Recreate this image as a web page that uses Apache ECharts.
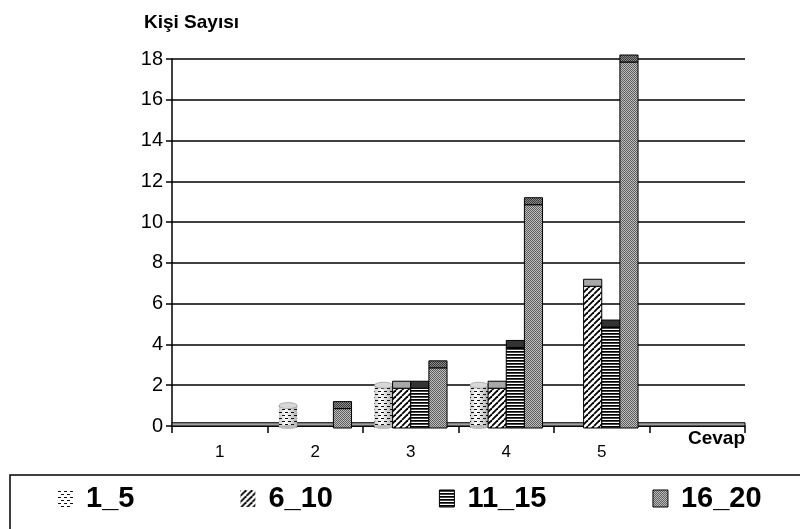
<!DOCTYPE html>
<html>
<head>
<meta charset="utf-8">
<style>
  html, body { margin: 0; padding: 0; background: #fff; }
  #chart { width: 800px; height: 529px; }
</style>
<script src="https://cdn.jsdelivr.net/npm/echarts@6/dist/echarts.min.js"></script>
</head>
<body>
<div id="chart"></div>
<script>
// Answers per group (Cevap 1..5), last slot left empty
const categories = ['1', '2', '3', '4', '5', ''];
const seriesNames = ['1_5', '6_10', '11_15', '16_20'];
const s1_5   = [0, 1, 2, 2, 0, 0];
const s6_10  = [0, 0, 2, 2, 7, 0];
const s11_15 = [0, 0, 2, 4, 5, 0];
const s16_20 = [0, 1, 3, 11, 18, 0];
const yTicks = { min: 0, max: 18, interval: 2 };

const FONT = '"Liberation Sans", Arial, sans-serif';

function makeCanvas(w, h, draw) {
  const c = document.createElement('canvas');
  c.width = w; c.height = h;
  draw(c.getContext('2d'));
  return c;
}

// fill patterns
const dashTransparent = makeCanvas(6, 6, g => {
  g.fillStyle = '#111';
  g.fillRect(0, 1, 3, 1);
  g.fillRect(3, 4, 3, 1);
});
const dashWhite = makeCanvas(6, 6, g => {
  g.fillStyle = '#fff'; g.fillRect(0, 0, 6, 6);
  g.fillStyle = '#111';
  g.fillRect(0, 1, 3, 1);
  g.fillRect(3, 4, 3, 1);
});
const diag = makeCanvas(6, 6, g => {
  g.fillStyle = '#fff'; g.fillRect(0, 0, 6, 6);
  g.strokeStyle = '#000'; g.lineWidth = 1.8;
  for (let k = -6; k <= 6; k += 6) {
    g.beginPath(); g.moveTo(k, 6); g.lineTo(k + 6, 0); g.stroke();
  }
});
const horiz = makeCanvas(3, 3, g => {
  g.fillStyle = '#fff'; g.fillRect(0, 0, 3, 3);
  g.fillStyle = '#000'; g.fillRect(0, 0, 3, 1);
  g.fillStyle = '#444'; g.fillRect(0, 1, 3, 1);
});
const checker = makeCanvas(2, 2, g => {
  g.fillStyle = '#bdbdbd'; g.fillRect(0, 0, 2, 2);
  g.fillStyle = '#5f5f5f'; g.fillRect(0, 0, 1, 1); g.fillRect(1, 1, 1, 1);
});
const checkerDark = makeCanvas(2, 2, g => {
  g.fillStyle = '#8a8a8a'; g.fillRect(0, 0, 2, 2);
  g.fillStyle = '#3a3a3a'; g.fillRect(0, 0, 1, 1); g.fillRect(1, 1, 1, 1);
});
const pat = c => ({ image: c, repeat: 'repeat' });

const fills = [pat(dashWhite), pat(diag), pat(horiz), pat(checker)];
const capFills = ['#e6e6e6', '#a8a8a8', '#333', pat(checkerDark)];

function renderBar(idx) {
  return function (params, api) {
    const v = api.value(1);
    if (!v) return;
    const cat = api.value(0);
    const base = api.coord([cat, 0]);
    const top = api.coord([cat, v]);
    const bw = api.size([1, 0])[0] * 0.19;
    const x = base[0] - 2 * bw + idx * bw;
    const bottom = base[1] + 2;
    if (idx === 0) {
      // cylinder: shaded body + dashed overlay + elliptic top
      const grad = new echarts.graphic.LinearGradient(0, 0, 1, 0, [
        { offset: 0, color: '#c8c8c8' },
        { offset: 0.35, color: '#ffffff' },
        { offset: 1, color: '#b0b0b0' }
      ]);
      return {
        type: 'group',
        children: [
          { type: 'rect', shape: { x: x, y: top[1], width: bw, height: bottom - top[1] }, style: { fill: grad } },
          { type: 'rect', shape: { x: x, y: top[1], width: bw, height: bottom - top[1] }, style: { fill: pat(dashTransparent) } },
          { type: 'ellipse', shape: { cx: x + bw / 2, cy: bottom - 1, rx: bw / 2, ry: 2 }, style: { fill: '#bbb' } },
          { type: 'ellipse', shape: { cx: x + bw / 2, cy: top[1], rx: bw / 2, ry: 3 }, style: { fill: '#d8d8d8', stroke: '#888', lineWidth: 0.6 } }
        ]
      };
    }
    return {
      type: 'group',
      children: [
        { type: 'rect', shape: { x: x, y: top[1] + 3, width: bw, height: bottom - top[1] - 3 },
          style: { fill: fills[idx], stroke: '#000', lineWidth: 1 } },
        { type: 'rect', shape: { x: x, y: top[1] - 4, width: bw, height: 7 },
          style: { fill: capFills[idx], stroke: '#000', lineWidth: 1 } }
      ]
    };
  };
}

const allValues = [s1_5, s6_10, s11_15, s16_20];
const series = allValues.map((vals, idx) => ({
  name: seriesNames[idx],
  type: 'custom',
  z: 3,
  renderItem: renderBar(idx),
  encode: { x: 0, y: 1 },
  itemStyle: { color: fills[idx] },
  data: vals.map((v, i) => [i, v])
}));

// floor band along the value 0
series.push({
  name: 'floor',
  type: 'line',
  data: [],
  z: 1,
  silent: true,
  markArea: {
    silent: true,
    itemStyle: { color: '#a0a0a0', borderColor: '#000', borderWidth: 1 },
    data: [[{ yAxis: 0 }, { yAxis: 0.16 }]]
  }
});

const legendIcons = [
  { color: pat(dashWhite), borderWidth: 0 },
  { color: pat(diag), borderWidth: 0 },
  { color: pat(horiz), borderColor: '#000', borderWidth: 1 },
  { color: pat(checker), borderColor: '#000', borderWidth: 1 }
];

const chart = echarts.init(document.getElementById('chart'), null, { renderer: 'canvas' });
chart.setOption({
  animation: false,
  backgroundColor: '#fff',
  title: {
    text: 'Kişi Sayısı',
    left: 139,
    top: 8,
    textStyle: { fontFamily: FONT, fontSize: 19, fontWeight: 'bold', color: '#000' }
  },
  grid: { left: 172, right: 55, top: 59, bottom: 103 },
  legend: {
    left: 10,
    top: 475,
    width: 1000,
    padding: [9, 80, 40, 48],
    itemWidth: 15,
    itemHeight: 17,
    itemGap: 106,
    borderColor: '#000',
    borderWidth: 1.5,
    icon: 'rect',
    textStyle: { fontFamily: FONT, fontSize: 29, fontWeight: 'bold', color: '#000', padding: [0, 0, 0, 8] },
    data: seriesNames.map((n, i) => ({ name: n, itemStyle: legendIcons[i] }))
  },
  xAxis: {
    type: 'category',
    data: categories,
    name: 'Cevap',
    nameLocation: 'end',
    nameGap: 0,
    nameTextStyle: {
      fontFamily: FONT, fontSize: 19, fontWeight: 'bold', color: '#000',
      align: 'right', verticalAlign: 'top', padding: [3, 0, 0, 0]
    },
    axisLine: { show: true, lineStyle: { color: '#000', width: 1.5 } },
    axisTick: { show: true, alignWithLabel: false, length: 7, lineStyle: { color: '#000', width: 1.5 } },
    axisLabel: { fontFamily: FONT, fontSize: 17, color: '#000', margin: 18 },
    splitLine: { show: false }
  },
  yAxis: {
    type: 'value',
    min: yTicks.min,
    max: yTicks.max,
    interval: yTicks.interval,
    axisLine: { show: true, lineStyle: { color: '#000', width: 1.5 } },
    axisTick: { show: true, length: 6, lineStyle: { color: '#000', width: 1.5 } },
    axisLabel: { fontFamily: FONT, fontSize: 20, color: '#000', margin: 9 },
    splitLine: { show: true, lineStyle: { color: '#000', width: 1.5 } }
  },
  series: series
});
</script>
</body>
</html>
